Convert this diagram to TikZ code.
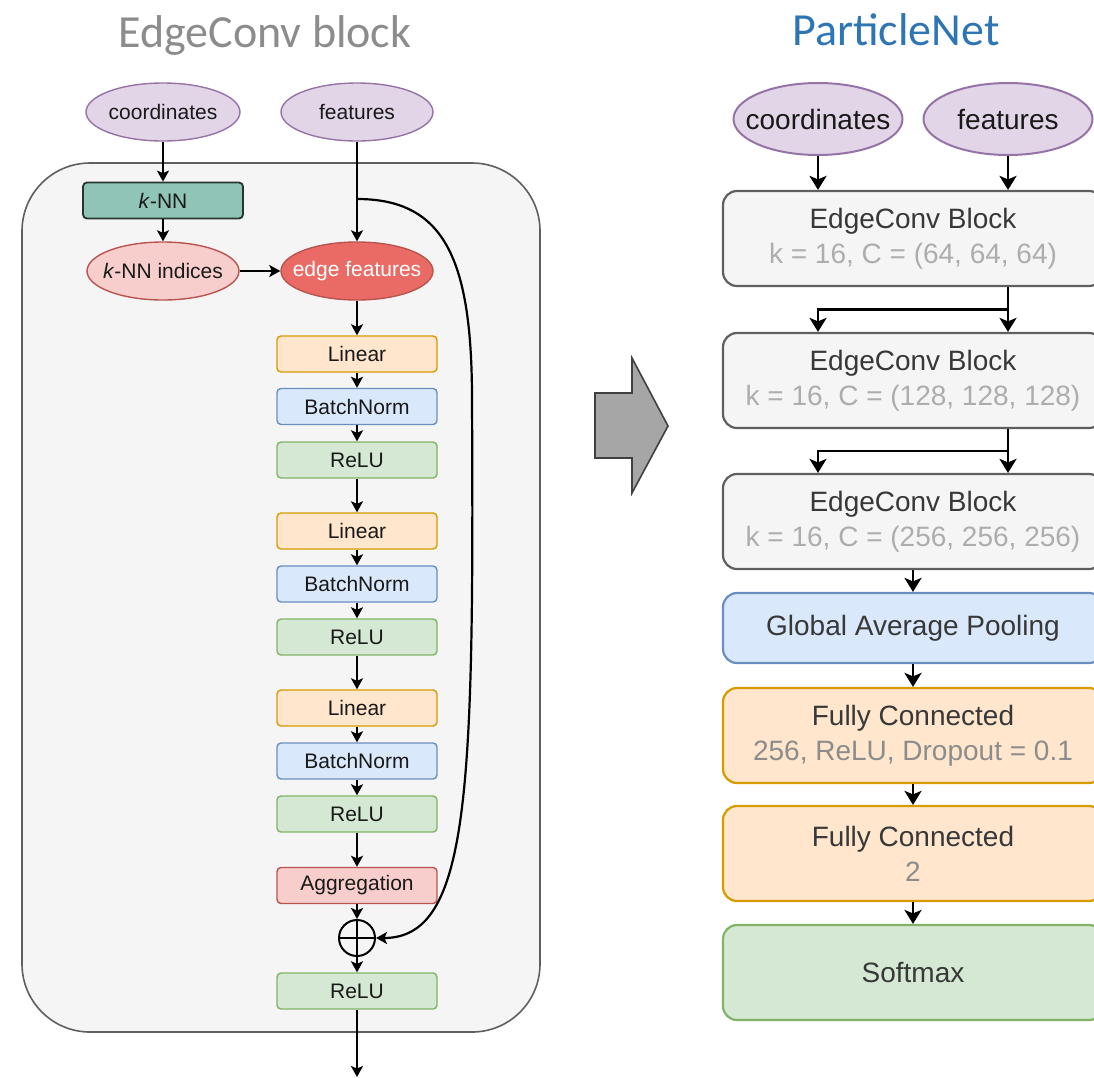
\documentclass[tikz,border=0pt]{standalone}
\usepackage{fontspec}
\setmainfont{Liberation Sans}
\newfontfamily\titlefont{Carlito}
\usetikzlibrary{shapes.geometric, calc, arrows.meta}

\definecolor{panelfill}{HTML}{F5F5F5}
\definecolor{paneldraw}{HTML}{5F5F5F}
\definecolor{inpfill}{HTML}{E1D5E7}
\definecolor{inpdraw}{HTML}{9673A6}
\definecolor{knnfill}{HTML}{8FC4B6}
\definecolor{knndraw}{HTML}{26352F}
\definecolor{redfill}{HTML}{F8CECC}
\definecolor{reddraw}{HTML}{B85450}
\definecolor{edgefill}{HTML}{EA6B66}
\definecolor{orfill}{HTML}{FFE6CC}
\definecolor{ordraw}{HTML}{D79B00}
\definecolor{bluefill}{HTML}{DAE8FC}
\definecolor{bluedraw}{HTML}{6C8EBF}
\definecolor{grfill}{HTML}{D5E8D4}
\definecolor{grdraw}{HTML}{82B366}
\definecolor{subgray}{HTML}{ADADAD}
\definecolor{titlegray}{HTML}{8C8C8C}
\definecolor{titleblue}{HTML}{2E75B6}
\definecolor{arrowfill}{HTML}{A6A6A6}
\definecolor{arrowdraw}{HTML}{404040}

\begin{document}
\begin{tikzpicture}[x=1pt, y=-1pt,
    arr/.style={line width=1.9pt, -{Stealth[length=11pt, width=12pt, inset=2.5pt]}},
    bigarr/.style={line width=2.8pt, -{Stealth[length=14pt, width=17pt, inset=3.5pt]}},
    oval/.style={ellipse, draw, line width=1.4pt, inner xsep=-40pt, inner ysep=0pt,
        minimum width=154pt, minimum height=58pt, text=black!90,
        font=\fontsize{21}{25}\selectfont},
    bigoval/.style={oval, line width=2pt, minimum width=169pt, minimum height=72pt,
        font=\fontsize{28}{34}\selectfont},
    lbox/.style={draw, rounded corners=4pt, line width=1.4pt, minimum width=160pt,
        minimum height=36pt, inner sep=0pt, text=black!90, font=\fontsize{21}{25}\selectfont},
    linear/.style={lbox, fill=orfill, draw=ordraw},
    bnorm/.style={lbox, fill=bluefill, draw=bluedraw},
    relu/.style={lbox, fill=grfill, draw=grdraw},
    rbox/.style={draw, rounded corners=14pt, line width=2.2pt, minimum width=380pt,
        minimum height=95pt, inner sep=0pt, align=center, text=black!78,
        font=\fontsize{28}{35}\selectfont},
    title/.style={anchor=base, font=\titlefont\fontsize{46}{50}\selectfont}]

    \useasboundingbox (0,0) rectangle (1094,1077);

    % titles
    \node[title, text=titlegray] (ttlA) at (265,47) {EdgeConv block};
    \node[title, text=titleblue] (ttlB) at (896,45) {ParticleNet};

    % EdgeConv block
    \draw[fill=panelfill, draw=paneldraw, line width=1.6pt, rounded corners=68pt]
        (22,163) rectangle (540,1032);

    \node[oval, fill=inpfill, draw=inpdraw] (coord) at (163,112) {coordinates};
    \node[oval, fill=inpfill, draw=inpdraw, minimum width=152pt] (feat) at (357,112) {features};
    \node[lbox, fill=knnfill, draw=knndraw, line width=1.8pt] (knn) at (163,200.5) {\textit{k}-NN};
    \node[oval, fill=redfill, draw=reddraw, minimum width=152pt] (idx) at (163,271) {\textit{k}-NN indices};
    \node[oval, fill=edgefill, draw=reddraw, text=white, minimum width=152pt] (edge) at (357,271) {edge features};

    % three Linear / BatchNorm / ReLU stacks
    \node[linear] (lin1) at (357,354) {Linear};
    \node[bnorm] (bn1) at (357,406.5) {BatchNorm};
    \node[relu] (relu1) at (357,460) {ReLU};

    \node[linear] (lin2) at (357,531) {Linear};
    \node[bnorm] (bn2) at (357,584) {BatchNorm};
    \node[relu] (relu2) at (357,637) {ReLU};

    \node[linear] (lin3) at (357,708) {Linear};
    \node[bnorm] (bn3) at (357,761) {BatchNorm};
    \node[relu] (relu3) at (357,814) {ReLU};

    \node[lbox, fill=redfill, draw=reddraw] (agg) at (357,885.5) {Aggregation};
    \node[circle, draw, line width=2pt, minimum size=36pt, inner sep=0pt] (sum) at (357,938) {};
    \node[relu] (relu4) at (357,991) {ReLU};

    \coordinate (split) at (357,199);
    \coordinate (out) at (357,1077);

    \draw[arr] (coord) -- (knn);
    \draw[arr] (knn) -- (idx);
    \draw[arr] (feat) -- (edge);
    \draw[arr] (idx) -- (edge);
    \draw[arr] (edge) -- (lin1);
    \draw[arr] (lin1) -- (bn1);
    \draw[arr] (bn1) -- (relu1);
    \draw[arr] (relu1) -- (lin2);
    \draw[arr] (lin2) -- (bn2);
    \draw[arr] (bn2) -- (relu2);
    \draw[arr] (relu2) -- (lin3);
    \draw[arr] (lin3) -- (bn3);
    \draw[arr] (bn3) -- (relu3);
    \draw[arr] (relu3) -- (agg);
    \draw[arr] (agg) -- (sum);
    \draw[line width=2pt] (sum.north) -- (sum.south) (sum.west) -- (sum.east);
    \draw[arr] (sum) -- (relu4);
    \draw[arr] (relu4) -- (out);

    % shortcut
    \draw[arr, line width=2.2pt] (split) .. controls (445,199) and (472,260) .. (472,400)
        .. controls (474,790) and (470,938) .. (sum.east);

    % big arrow between the two panels
    \draw[fill=arrowfill, draw=arrowdraw, line width=1.6pt]
        (595,393) -- (632,393) -- (632,358) -- (668,426) -- (632,493) -- (632,458) -- (595,458) -- cycle;

    % ParticleNet
    \node[bigoval, fill=inpfill, draw=inpdraw] (coord2) at (818,119) {coordinates};
    \node[bigoval, fill=inpfill, draw=inpdraw] (feat2) at (1008,119) {features};

    \node[rbox, fill=panelfill, draw=paneldraw] (blk1) at (913,238.5)
        {EdgeConv Block\\{\color{subgray}k = 16, C = (64, 64, 64)}};
    \node[rbox, fill=panelfill, draw=paneldraw] (blk2) at (913,380.5)
        {EdgeConv Block\\{\color{subgray}k = 16, C = (128, 128, 128)}};
    \node[rbox, fill=panelfill, draw=paneldraw] (blk3) at (913,521.5)
        {EdgeConv Block\\{\color{subgray}k = 16, C = (256, 256, 256)}};
    \node[rbox, fill=bluefill, draw=bluedraw, minimum height=70pt] (gap) at (913,628)
        {Global Average Pooling};
    \node[rbox, fill=orfill, draw=ordraw] (fc1) at (913,735.5)
        {Fully Connected\\{\color{black!45}256, ReLU, Dropout = 0.1}};
    \node[rbox, fill=orfill, draw=ordraw] (fc2) at (913,853.5)
        {Fully Connected\\{\color{black!45}2}};
    \node[rbox, fill=grfill, draw=grdraw] (soft) at (913,972.5) {Softmax};

    \draw[bigarr] (coord2) -- (coord2 |- blk1.north);
    \draw[bigarr] (feat2) -- (feat2 |- blk1.north);

    \coordinate (br1) at ($(blk1.south -| feat2)!0.5!(blk2.north -| feat2)$);
    \draw[bigarr] (blk1.south -| feat2) -- (blk2.north -| feat2);
    \draw[bigarr] (br1) -| (blk2.north -| coord2);

    \coordinate (br2) at ($(blk2.south -| feat2)!0.5!(blk3.north -| feat2)$);
    \draw[bigarr] (blk2.south -| feat2) -- (blk3.north -| feat2);
    \draw[bigarr] (br2) -| (blk3.north -| coord2);

    \draw[bigarr] (blk3) -- (gap);
    \draw[bigarr] (gap) -- (fc1);
    \draw[bigarr] (fc1) -- (fc2);
    \draw[bigarr] (fc2) -- (soft);

\end{tikzpicture}
\end{document}
